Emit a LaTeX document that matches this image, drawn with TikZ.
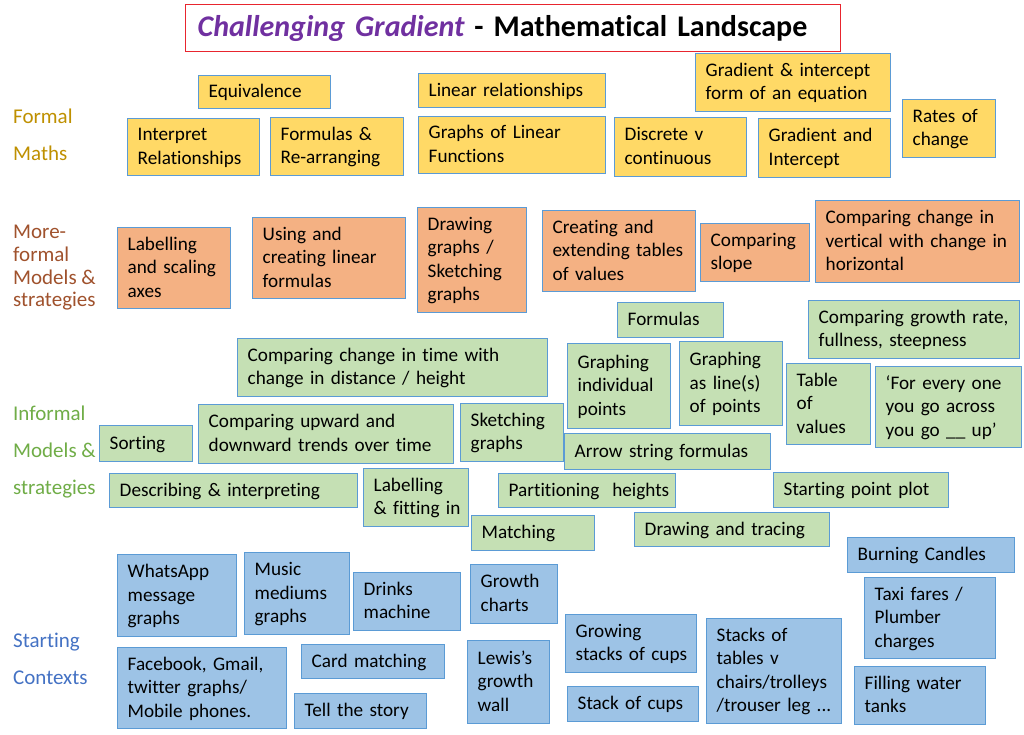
\documentclass[tikz,border=0pt]{standalone}
\usepackage{fontspec}
\setmainfont{Carlito}[Ligatures=NoCommon]
\definecolor{bfill}{HTML}{9DC3E6}
\definecolor{gfill}{HTML}{C5E0B4}
\definecolor{ofill}{HTML}{F4B183}
\definecolor{yfill}{HTML}{FFD966}
\definecolor{edge}{HTML}{5B9BD5}
\definecolor{formalc}{HTML}{BF9000}
\definecolor{moreformalc}{HTML}{A0522D}
\definecolor{informalc}{HTML}{70AD47}
\definecolor{startc}{HTML}{4472C4}
\definecolor{titlered}{HTML}{E8252E}
\definecolor{titlepurple}{HTML}{7030A0}
\tikzset{
  card/.style={draw=edge, line width=1.4pt, inner xsep=10pt, inner ysep=1pt, align=left,
    font=\fontsize{19.2}{23.5}\selectfont, text=black},
  fy/.style={card, fill=yfill},
  fo/.style={card, fill=ofill},
  fg/.style={card, fill=gfill},
  fb/.style={card, fill=bfill},
  catlabel/.style={anchor=base west, inner sep=0pt, font=\fontsize{21}{25}\selectfont},
}
\newcommand\cardbox[7]{%
  \pgfmathsetmacro\cbw{#5-#3}%
  \pgfmathsetmacro\cbh{#6-#4}%
  \pgfmathsetmacro\cbt{#5-#3-20}%
  \node[#2, anchor=north west, text width=\cbt pt, minimum width=\cbw pt, minimum height=\cbh pt]
    (#1) at (#3,#4) {\begin{tabular}{@{}l@{}}\rule{0pt}{18pt}#7\end{tabular}};}
\begin{document}
\begin{tikzpicture}[x=1pt, y=-1pt]
\useasboundingbox[fill=white] (0,0) rectangle (1024,735);

% title
\node[draw=titlered, line width=1.4pt, anchor=north west, minimum width=655pt, minimum height=47pt,
  text width=631pt, inner xsep=12pt, inner ysep=0pt, text height=21pt, text depth=4pt, align=left,
  font=\bfseries\fontsize{30}{34}\selectfont]
  (title) at (185,4) {\textcolor{titlepurple}{\itshape Challenging Gradient} - Mathematical Landscape};

% category labels
\node[catlabel, text=formalc] (fm1) at (13,124) {Formal};
\node[catlabel, text=formalc] (fm2) at (13,161) {Maths};
\node[catlabel, text=moreformalc] (mf1) at (13,238) {More-};
\node[catlabel, text=moreformalc] (mf2) at (13,261) {formal};
\node[catlabel, text=moreformalc] (mf3) at (13,284) {Models \&};
\node[catlabel, text=moreformalc] (mf4) at (13,306) {strategies};
\node[catlabel, text=informalc] (in1) at (13,420) {Informal};
\node[catlabel, text=informalc] (in2) at (13,457) {Models \&};
\node[catlabel, text=informalc] (in3) at (13,494) {strategies};
\node[catlabel, text=startc] (sc1) at (13,647) {Starting};
\node[catlabel, text=startc] (sc2) at (13,684) {Contexts};

% formal maths
\cardbox{equiv}{fy}{198}{75}{330}{108}{Equivalence}
\cardbox{linrel}{fy}{418}{73}{605}{107}{Linear relationships}
\cardbox{interp}{fy}{127}{118}{259}{175}{Interpret\\Relationships}
\cardbox{formre}{fy}{270}{117}{403}{175}{Formulas \&\\Re-arranging}
\cardbox{graphlin}{fy}{418}{116}{605}{173}{Graphs of Linear\\Functions}
\cardbox{discrete}{fy}{614}{117}{746}{176}{Discrete v\\continuous}
\cardbox{gradform}{fy}{695}{53}{890}{111}{Gradient \& intercept\\form of an equation}
\cardbox{gradint}{fy}{758}{118}{890}{177}{Gradient and\\Intercept}
\cardbox{rates}{fy}{902}{99}{995}{157}{Rates of\\change}

% more-formal
\cardbox{labaxes}{fo}{117}{227}{230}{308}{Labelling\\and scaling\\axes}
\cardbox{usingform}{fo}{252}{217}{405}{298}{Using and\\creating linear\\formulas}
\cardbox{drawgr}{fo}{417}{207}{526}{312}{Drawing\\graphs /\\Sketching\\graphs}
\cardbox{tables}{fo}{542}{210}{695}{291}{Creating and\\extending tables\\of values}
\cardbox{slope}{fo}{700}{223}{809}{281}{Comparing\\slope}
\cardbox{vert}{fo}{815}{200}{1019}{282}{Comparing change in\\vertical with change in\\horizontal}

% informal
\cardbox{formulas}{fg}{617}{302}{723}{337}{Formulas}
\cardbox{growthrate}{fg}{808}{300}{1019}{358}{Comparing growth rate,\\fullness, steepness}
\cardbox{timedist}{fg}{237}{338}{547}{396}{Comparing change in time with\\change in distance / height}
\cardbox{indiv}{fg}{567}{343}{670}{428}{Graphing\\individual\\points}
\cardbox{asline}{fg}{679}{341}{782}{425}{Graphing\\as line(s)\\of points}
\cardbox{tov}{fg}{786}{363}{870}{444}{Table\\of\\values}
\cardbox{forevery}{fg}{875}{366}{1021}{447}{‘For every one\\you go across\\you go \_\_ up’}
\cardbox{sorting}{fg}{99}{425}{192}{461}{Sorting}
\cardbox{updown}{fg}{198}{404}{453}{463}{Comparing upward and\\downward trends over time}
\cardbox{sketch}{fg}{460}{403}{563}{461}{Sketching\\graphs}
\cardbox{arrow}{fg}{564}{433}{770}{469}{Arrow string formulas}
\cardbox{describe}{fg}{109}{473}{357}{507}{Describing \& interpreting}
\cardbox{labfit}{fg}{363}{468}{468}{526}{Labelling\\\& fitting in}
\cardbox{partition}{fg}{498}{473}{675}{507}{Partitioning\ \ heights}
\cardbox{startpt}{fg}{773}{472}{948}{507}{Starting point plot}
\cardbox{matching}{fg}{471}{515}{594}{550}{Matching}
\cardbox{drawtrace}{fg}{634}{512}{829}{546}{Drawing and tracing}

% starting contexts
\cardbox{candles}{fb}{847}{537}{1014}{572}{Burning Candles}
\cardbox{whatsapp}{fb}{117}{554}{236}{636}{WhatsApp\\message\\graphs}
\cardbox{music}{fb}{244}{552}{349}{634}{Music\\mediums\\graphs}
\cardbox{drinks}{fb}{353}{572}{460}{630}{Drinks\\machine}
\cardbox{growthch}{fb}{470}{564}{557}{623}{Growth\\charts}
\cardbox{facebook}{fb}{117}{647}{286}{728}{Facebook, Gmail,\\twitter graphs/\\Mobile phones.}
\cardbox{card}{fb}{301}{644}{444}{678}{Card matching}
\cardbox{story}{fb}{294}{693}{426}{728}{Tell the story}
\cardbox{lewis}{fb}{467}{640}{549}{723}{Lewis’s\\growth\\wall}
\cardbox{growstack}{fb}{565}{614}{696}{672}{Growing\\stacks of cups}
\cardbox{stack}{fb}{567}{686}{698}{721}{Stack of cups}
\cardbox{tablesv}{fb}{706}{618}{841}{723}{Stacks of\\tables v\\chairs/trolleys\\/trouser leg ...}
\cardbox{taxi}{fb}{864}{577}{995}{658}{Taxi fares /\\Plumber\\charges}
\cardbox{water}{fb}{854}{666}{985}{724}{Filling water\\tanks}
\end{tikzpicture}
\end{document}
